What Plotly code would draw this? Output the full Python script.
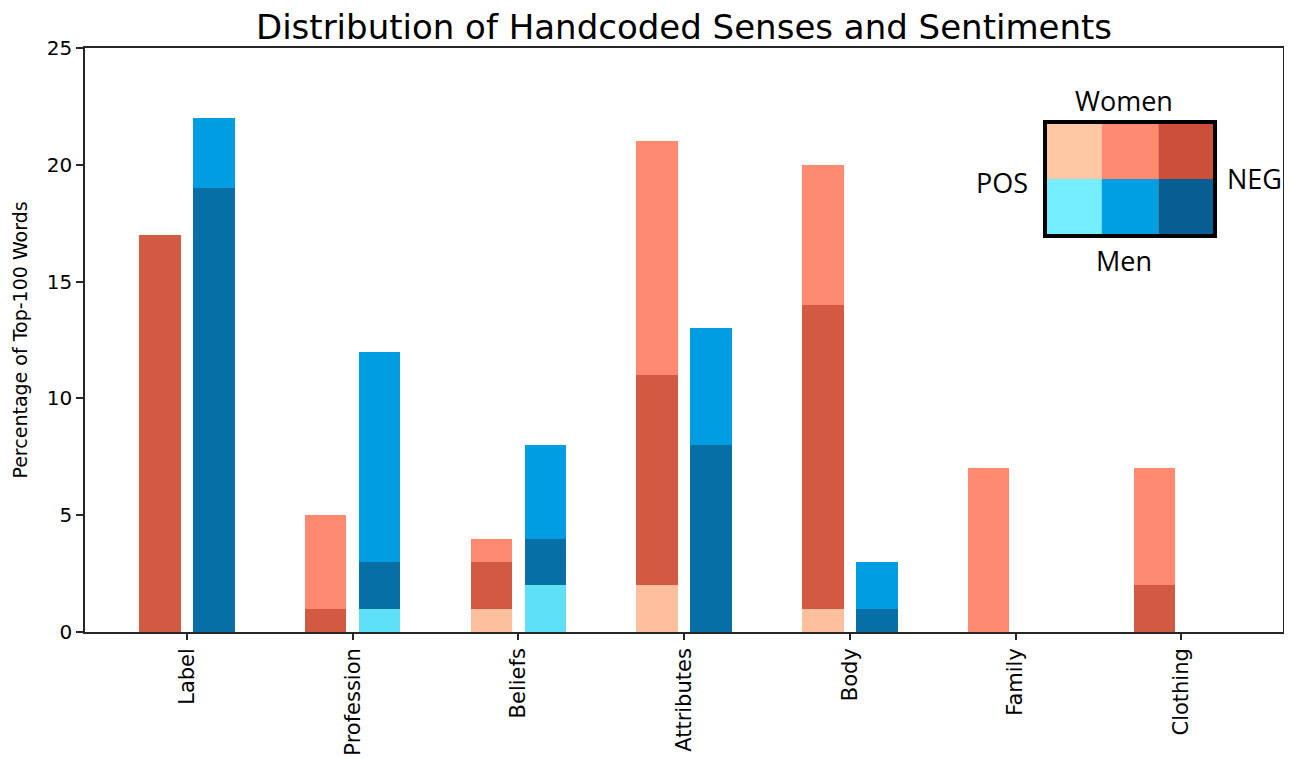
import plotly.graph_objects as go

categories = ["Label", "Profession", "Beliefs", "Attributes", "Body", "Family", "Clothing"]

women_pos = [0, 0, 1, 2, 1, 0, 0]
women_neg = [17, 1, 2, 9, 13, 0, 2]
women_neu = [0, 4, 1, 10, 6, 7, 5]

men_pos = [0, 1, 2, 0, 0, 0, 0]
men_neg = [19, 2, 2, 8, 1, 0, 0]
men_neu = [3, 9, 4, 5, 2, 0, 0]

y_ticks = [0, 5, 10, 15, 20, 25]

women_colors = {"pos": "#FDBF9C", "neu": "#FF8A70", "neg": "#D35A42"}
men_colors = {"pos": "#5EE0F8", "neu": "#009DE2", "neg": "#066FA6"}
legend_women = ["#FFC8A5", "#FF8A70", "#CC4F38"]
legend_men = ["#75EFFF", "#009FE3", "#065E93"]

offset = 0.163
bar_w = 0.25
idx = list(range(len(categories)))
xw = [i - offset for i in idx]
xm = [i + offset for i in idx]

fig = go.Figure()
for vals, col in [(women_pos, women_colors["pos"]), (women_neg, women_colors["neg"]), (women_neu, women_colors["neu"])]:
    fig.add_trace(go.Bar(x=xw, y=vals, width=bar_w, marker=dict(color=col, line=dict(width=0)), showlegend=False))
for vals, col in [(men_pos, men_colors["pos"]), (men_neg, men_colors["neg"]), (men_neu, men_colors["neu"])]:
    fig.add_trace(go.Bar(x=xm, y=vals, width=bar_w, marker=dict(color=col, line=dict(width=0)), showlegend=False))

# page offset (default body margin of the html page)
OFF = 8
FIG_W, FIG_H = 1292 - OFF, 759 - OFF
# target plot area in screen pixels
L, R, T, B = 85, 1283, 48, 632
W, H = R - L, B - T
def px(x):
    return (x - L) / W
def py(y):
    return (B - y) / H

box_x0, box_x1, box_y0, box_y1 = 1045, 1215, 122, 236
cw = (box_x1 - box_x0) / 3
rh = (box_y1 - box_y0) / 2
shapes = []
for r, row in enumerate([legend_women, legend_men]):
    for c, col in enumerate(row):
        shapes.append(dict(type="rect", xref="paper", yref="paper",
                           x0=px(box_x0 + c * cw), x1=px(box_x0 + (c + 1) * cw),
                           y0=py(box_y0 + (r + 1) * rh), y1=py(box_y0 + r * rh),
                           fillcolor=col, line=dict(width=0), layer="above"))
shapes.append(dict(type="rect", xref="paper", yref="paper",
                   x0=px(box_x0), x1=px(box_x1), y0=py(box_y1), y1=py(box_y0),
                   line=dict(color="black", width=4), fillcolor="rgba(0,0,0,0)", layer="above"))

lf = dict(family="Open Sans, Lato, sans-serif", size=27, color="black")
annotations = [
    dict(text="Women", x=px(1124), y=py(100), xref="paper", yref="paper", showarrow=False, font=lf, xanchor="center", yanchor="middle"),
    dict(text="Men", x=px(1124), y=py(260), xref="paper", yref="paper", showarrow=False, font=lf, xanchor="center", yanchor="middle"),
    dict(text="POS", x=px(1030), y=py(182), xref="paper", yref="paper", showarrow=False, font=lf, xanchor="right", yanchor="middle"),
    dict(text="NEG", x=px(1225), y=py(179), xref="paper", yref="paper", showarrow=False, font=lf, xanchor="left", yanchor="middle"),
]

axis_color = "#262626"
fig.update_layout(
    width=FIG_W, height=FIG_H,
    margin=dict(l=L - OFF, r=1292 - R, t=T - OFF, b=759 - B, autoexpand=False),
    barmode="stack",
    bargap=0,
    plot_bgcolor="white", paper_bgcolor="white",
    title=dict(text="Distribution of Handcoded Senses and Sentiments",
               x=px(684), xref="paper", xanchor="center", y=1 - (27 - OFF) / FIG_H, yanchor="middle",
               font=dict(family="DejaVu Sans", size=34, color="black")),
    font=dict(family="DejaVu Sans", color="black"),
    shapes=shapes,
    annotations=annotations,
)
fig.update_xaxes(range=[-0.6156, 6.614], tickmode="array", tickvals=idx, ticktext=categories,
                 tickangle=-90, tickfont=dict(family="DejaVu Sans", size=21, color="black"),
                 showline=True, linecolor=axis_color, linewidth=1.5, mirror=True,
                 ticks="outside", ticklen=6, tickcolor=axis_color, tickwidth=1.5,
                 showgrid=False, zeroline=False, automargin=False)
fig.update_yaxes(range=[0, 25], tickmode="array", tickvals=y_ticks,
                 tickfont=dict(family="DejaVu Sans", size=20, color="black"),
                 title=dict(text="Percentage of Top-100 Words", font=dict(family="DejaVu Sans", size=19, color="black"), standoff=14),
                 showline=True, linecolor=axis_color, linewidth=1.5, mirror=True,
                 ticks="outside", ticklen=7, tickcolor=axis_color, tickwidth=1.5,
                 showgrid=False, zeroline=False, automargin=False)

fig.write_html("out.html")
